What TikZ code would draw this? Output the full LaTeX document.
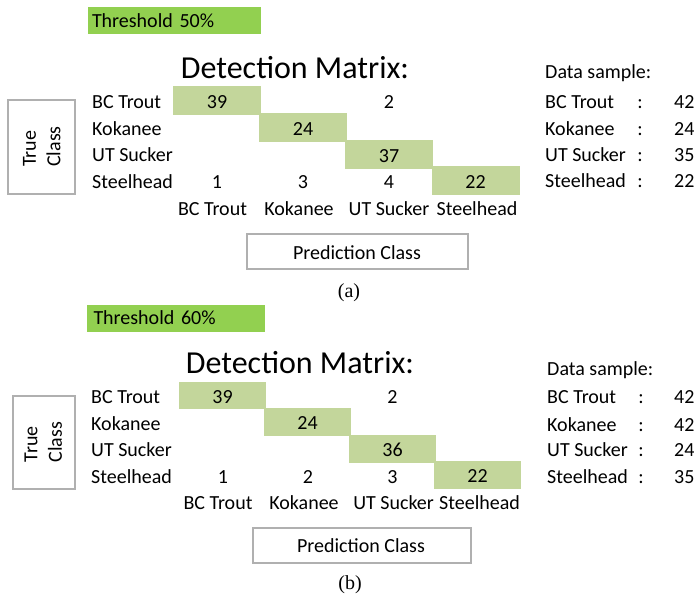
\documentclass[tikz,border=0pt]{standalone}
\usepackage{fontspec}
\setmainfont{Carlito}
\newfontfamily\capfont{Liberation Serif}
\definecolor{thgreen}{HTML}{92D050}
\definecolor{cellgreen}{HTML}{C3D69B}
\definecolor{boxgray}{HTML}{B0B0B0}
\begin{document}
\begin{tikzpicture}[x=1pt,y=-1pt,
  txt/.style={font=\fontsize{20}{24}\selectfont, inner sep=0pt, anchor=base},
  lbl/.style={txt, anchor=base west},
  ttl/.style={font=\fontsize{32}{38}\selectfont, inner sep=0pt, anchor=base},
  thbox/.style={fill=thgreen, draw=none, minimum height=27pt, minimum width=173pt, inner sep=4pt, font=\fontsize{20}{24}\selectfont, align=left, text width=165pt},
  cellbox/.style={fill=cellgreen, draw=none, minimum width=88pt, minimum height=28.5pt, inner sep=0pt, text height=15.4pt, text depth=0pt, font=\fontsize{20}{24}\selectfont},
  framebox/.style={draw=boxgray, line width=1.5pt, inner sep=0pt},
  capt/.style={font=\capfont\fontsize{20}{24}\selectfont, inner sep=0pt, anchor=base}]
\useasboundingbox (0,0) rectangle (694,595);

% ================= panel (a) =================
\node[thbox] (athr) at (174.5,20.5) {Threshold 50\%};
\node[ttl] (atitle) at (295,78.3) {Detection Matrix:};
\node[lbl] (ar1) at (92,108.3) {BC Trout};
\node[lbl] (ar2) at (92,135) {Kokanee};
\node[lbl] (ar3) at (92,161.5) {UT Sucker};
\node[lbl] (ar4) at (92,188.3) {Steelhead};
\node[cellbox] (ac11) at (217,100.5) {39};
\node[cellbox] (ac22) at (303,127.5) {24};
\node[cellbox] (ac33) at (389,154.5) {37};
\node[cellbox] (ac44) at (475.5,180.5) {22};
\node[txt] (ac13) at (389,108.3) {2};
\node[txt] (ac41) at (217,188.3) {1};
\node[txt] (ac42) at (303,188.3) {3};
\node[txt] (ac43) at (389,188.3) {4};
\node[txt] (ak1) at (212.5,215.5) {BC Trout};
\node[txt] (ak2) at (299,215.5) {Kokanee};
\node[txt] (ak3) at (389,215.5) {UT Sucker};
\node[txt] (ak4) at (477,215.5) {Steelhead};
\node[framebox, minimum width=67pt, minimum height=94pt] (atcbox) at (41.5,147) {};
\node[rotate=90, align=left, font=\fontsize{20}{24.5}\selectfont, inner sep=0pt] (atc) at (41.7,146.5) {True\\Class};
\node[framebox, minimum width=221pt, minimum height=35pt] (apcbox) at (357.5,251.5) {};
\node[txt] (apc) at (357,259) {Prediction Class};
\node[capt] (acap) at (349,297.5) {(a)};
\node[lbl] (ads) at (545,78.5) {Data sample:};
\node[lbl] (ad1) at (545,108.3) {BC Trout};
\node[lbl] (ad2) at (545,135) {Kokanee};
\node[lbl] (ad3) at (545,161.3) {UT Sucker};
\node[lbl] (ad4) at (545,187.8) {Steelhead};
\node[txt] (ak1c) at (640,108.3) {:};
\node[txt] (ak2c) at (640,135) {:};
\node[txt] (ak3c) at (640,161.3) {:};
\node[txt] (ak4c) at (640,187.8) {:};
\node[lbl] (av1) at (674,108.3) {42};
\node[lbl] (av2) at (674,135) {24};
\node[lbl] (av3) at (674,161.3) {35};
\node[lbl] (av4) at (674,187.8) {22};

% ================= panel (b) =================
\node[thbox, minimum width=178pt] (bthr) at (176,318) {Threshold 60\%};
\node[ttl] (btitle) at (300,373.3) {Detection Matrix:};
\node[lbl] (br1) at (91,403.3) {BC Trout};
\node[lbl] (br2) at (91,430) {Kokanee};
\node[lbl] (br3) at (91,456.3) {UT Sucker};
\node[lbl] (br4) at (91,483.3) {Steelhead};
\node[cellbox, minimum width=87pt, minimum height=27.5pt] (bc11) at (222.5,395.7) {39};
\node[cellbox, minimum width=87pt, minimum height=27.5pt] (bc22) at (307.5,422) {24};
\node[cellbox, minimum width=87pt, minimum height=27.5pt] (bc33) at (392.5,449) {36};
\node[cellbox, minimum width=87pt, minimum height=27.5pt] (bc44) at (477.5,475) {22};
\node[txt] (bc13) at (392.4,403.3) {2};
\node[txt] (bc41) at (223,483.3) {1};
\node[txt] (bc42) at (308,483.3) {2};
\node[txt] (bc43) at (392.4,483.3) {3};
\node[txt] (bk1) at (218,509.3) {BC Trout};
\node[txt] (bk2) at (304,509.3) {Kokanee};
\node[txt] (bk3) at (393.6,509.3) {UT Sucker};
\node[txt] (bk4) at (479.6,509.3) {Steelhead};
\node[framebox, minimum width=62pt, minimum height=93pt] (btcbox) at (43.8,442.5) {};
\node[rotate=90, align=left, font=\fontsize{20}{24.5}\selectfont, inner sep=0pt] (btc) at (43.4,442) {True\\Class};
\node[framebox, minimum width=218pt, minimum height=35pt] (bpcbox) at (362,545.5) {};
\node[txt] (bpc) at (361,552.7) {Prediction Class};
\node[capt] (bcap) at (350,589) {(b)};
\node[lbl] (bds) at (547,375) {Data sample:};
\node[lbl] (bd1) at (547,403.3) {BC Trout};
\node[lbl] (bd2) at (547,431) {Kokanee};
\node[lbl] (bd3) at (547,456.7) {UT Sucker};
\node[lbl] (bd4) at (547,483.3) {Steelhead};
\node[txt] (bk1c) at (641,403.3) {:};
\node[txt] (bk2c) at (641,431) {:};
\node[txt] (bk3c) at (641,456.7) {:};
\node[txt] (bk4c) at (641,483.3) {:};
\node[lbl] (bv1) at (674,403.3) {42};
\node[lbl] (bv2) at (674,431) {42};
\node[lbl] (bv3) at (674,456.7) {24};
\node[lbl] (bv4) at (674,483.3) {35};
\end{tikzpicture}
\end{document}
